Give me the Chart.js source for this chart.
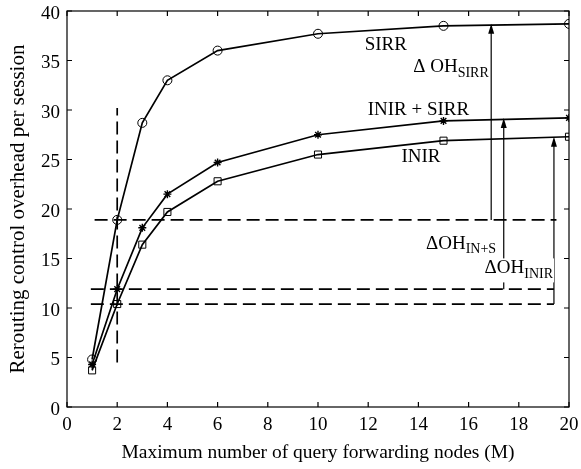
<!DOCTYPE html>
<html>
<head>
<meta charset="utf-8">
<script src="https://cdn.jsdelivr.net/npm/chart.js@4"></script>
<style>
  html, body { margin: 0; padding: 0; background: #fff; }
  #wrap { width: 581px; height: 469px; }
</style>
</head>
<body>
<div id="wrap"><canvas id="overheadChart"></canvas></div>
<script>
const mValues = [1, 2, 3, 4, 6, 10, 15, 20];
const sirr = [4.8, 18.9, 28.7, 33.0, 36.0, 37.7, 38.5, 38.7];
const inirSirr = [4.3, 11.9, 18.1, 21.5, 24.7, 27.5, 28.9, 29.2];
const inir = [3.7, 10.4, 16.4, 19.7, 22.8, 25.5, 26.9, 27.3];

const xTicks = [0, 2, 4, 6, 8, 10, 12, 14, 16, 18, 20];
const yTicks = [0, 5, 10, 15, 20, 25, 30, 35, 40];

// dashed guide lines [x1, y1, x2, y2]
const dashedLines = [
    [2, 4.5, 2, 30.2],
    [1.1, 18.9, 19.5, 18.9],
    [0.95, 11.9, 19.4, 11.9],
    [0.95, 10.4, 19.4, 10.4]
];
// arrows [x, yFrom, yTo]
const arrows = [
    [16.9, 18.9, 38.7],
    [17.4, 11.9, 29.2],
    [19.4, 10.4, 27.3]
];
// text labels [x, y, main, subscript]
const notes = [
    [12.7, 36.6, 'SIRR', ''],
    [15.3, 34.3, 'Δ OH', 'SIRR'],
    [14.0, 30.0, 'INIR + SIRR', ''],
    [14.1, 25.3, 'INIR', ''],
    [15.7, 16.5, 'ΔOH', 'IN+S'],
    [18.0, 14.0, 'ΔOH', 'INIR']
];

const serif = '"Liberation Serif", "DejaVu Serif", serif';

function pts(ys) {
    return mValues.map((m, i) => ({ x: m, y: ys[i] }));
}

const annotations = {
    id: 'annotations',
    beforeDatasetsDraw(chart) {
        const { ctx, scales: { x, y } } = chart;
        ctx.save();
        ctx.strokeStyle = '#000';
        ctx.fillStyle = '#000';
        ctx.lineWidth = 1.7;
        ctx.setLineDash([13, 6]);
        dashedLines.forEach(([x1, y1, x2, y2]) => {
            ctx.beginPath();
            ctx.moveTo(x.getPixelForValue(x1), y.getPixelForValue(y1));
            ctx.lineTo(x.getPixelForValue(x2), y.getPixelForValue(y2));
            ctx.stroke();
        });
        ctx.setLineDash([]);
        ctx.lineWidth = 1.2;
        arrows.forEach(([ax, y1, y2]) => {
            const px = x.getPixelForValue(ax);
            const p1 = y.getPixelForValue(y1);
            const p2 = y.getPixelForValue(y2);
            ctx.beginPath();
            ctx.moveTo(px, p1);
            ctx.lineTo(px, p2 + 6);
            ctx.stroke();
            ctx.beginPath();
            ctx.moveTo(px, p2);
            ctx.lineTo(px - 3, p2 + 10);
            ctx.lineTo(px + 3, p2 + 10);
            ctx.closePath();
            ctx.fill();
        });
        ctx.textBaseline = 'middle';
        ctx.textAlign = 'left';
        notes.forEach(([nx, ny, main, sub]) => {
            ctx.font = '19px ' + serif;
            const w = ctx.measureText(main).width;
            ctx.font = '14px ' + serif;
            const ws = sub ? ctx.measureText(sub).width : 0;
            const cx = x.getPixelForValue(nx);
            const cy = y.getPixelForValue(ny);
            const left = cx - (w + ws) / 2;
            ctx.fillStyle = '#fff';
            ctx.fillRect(left - 1, cy - 10, w + ws + 2, 24);
            ctx.fillStyle = '#000';
            ctx.font = '19px ' + serif;
            ctx.fillText(main, left, cy);
            if (sub) {
                ctx.font = '14px ' + serif;
                ctx.fillText(sub, left + w, cy + 6);
            }
        });
        ctx.restore();
    },
    afterDraw(chart) {
        const { ctx, chartArea: a, scales: { x, y } } = chart;
        ctx.save();
        ctx.strokeStyle = '#000';
        ctx.lineWidth = 1.2;
        ctx.strokeRect(a.left, a.top, a.right - a.left, a.bottom - a.top);
        ctx.beginPath();
        xTicks.forEach(v => {
            const px = x.getPixelForValue(v);
            ctx.moveTo(px, a.bottom); ctx.lineTo(px, a.bottom - 5);
            ctx.moveTo(px, a.top); ctx.lineTo(px, a.top + 5);
        });
        yTicks.forEach(v => {
            const py = y.getPixelForValue(v);
            ctx.moveTo(a.left, py); ctx.lineTo(a.left + 5, py);
            ctx.moveTo(a.right, py); ctx.lineTo(a.right - 5, py);
        });
        ctx.stroke();
        ctx.restore();
    }
};

const common = {
    borderColor: '#000',
    backgroundColor: 'rgba(0,0,0,0)',
    pointBorderColor: '#000',
    pointBackgroundColor: 'rgba(0,0,0,0)',
    borderWidth: 1.7,
    pointBorderWidth: 1,
    tension: 0
};

new Chart(document.getElementById('overheadChart'), {
    type: 'line',
    data: {
        datasets: [
            { ...common, label: 'SIRR', data: pts(sirr), pointStyle: 'circle', pointRadius: 4.5 },
            { ...common, label: 'INIR + SIRR', data: pts(inirSirr), pointStyle: 'star', pointRadius: 4, pointBorderWidth: 1.4 },
            { ...common, label: 'INIR', data: pts(inir), pointStyle: 'rect', pointRadius: 5 }
        ]
    },
    plugins: [annotations],
    options: {
        responsive: true,
        maintainAspectRatio: false,
        animation: false,
        layout: { padding: { top: 11, right: 12, left: 0, bottom: 0 } },
        plugins: { legend: { display: false }, tooltip: { enabled: false } },
        scales: {
            x: {
                type: 'linear',
                min: 0, max: 20,
                afterFit: s => { s.height = 62; s.paddingLeft = 0; s.paddingRight = 0; },
                afterBuildTicks: s => { s.ticks = xTicks.map(v => ({ value: v })); },
                grid: { display: false, drawTicks: false },
                border: { display: false },
                ticks: { color: '#000', padding: 7, font: { family: serif, size: 19 } },
                title: {
                    display: true,
                    text: 'Maximum number of query forwarding nodes (M)',
                    color: '#000',
                    font: { family: serif, size: 19.5 },
                    padding: { top: 0, bottom: 4 }
                }
            },
            y: {
                type: 'linear',
                min: 0, max: 40,
                afterFit: s => { s.width = 67; s.paddingTop = 0; s.paddingBottom = 0; },
                afterBuildTicks: s => { s.ticks = yTicks.map(v => ({ value: v })); },
                grid: { display: false, drawTicks: false },
                border: { display: false },
                ticks: { color: '#000', padding: 7, labelOffset: 3, font: { family: serif, size: 19 } },
                title: {
                    display: true,
                    text: 'Rerouting control overhead per session',
                    color: '#000',
                    font: { family: serif, size: 21 },
                    padding: { top: 6, bottom: 0 }
                }
            }
        }
    }
});
</script>
</body>
</html>
